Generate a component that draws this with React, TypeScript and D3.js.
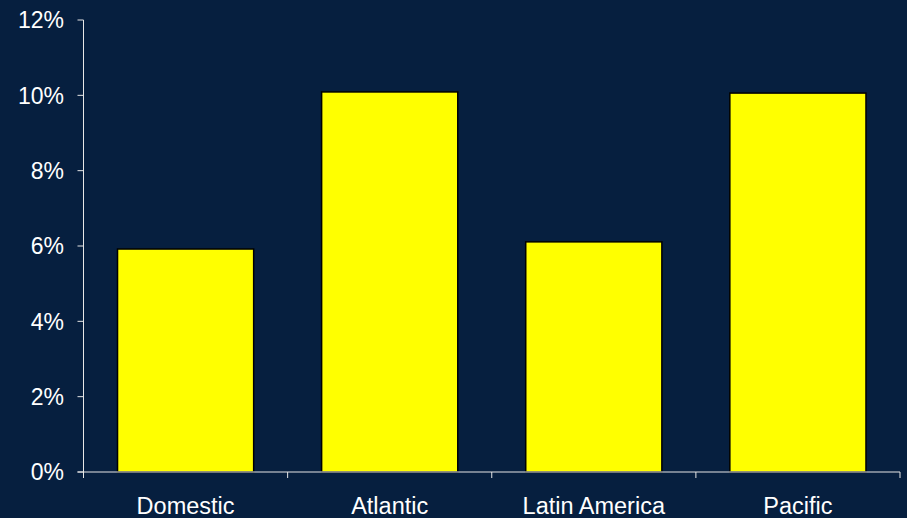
import React from "react";
import * as d3 from "d3";

const categories = ["Domestic", "Atlantic", "Latin America", "Pacific"];
const values = [0.0592, 0.1009, 0.0611, 0.1006];
const yTicks = [0, 0.02, 0.04, 0.06, 0.08, 0.1, 0.12];

const W = 907;
const H = 518;
const margin = { left: 83.5, right: 7, top: 20, bottom: 46 };

export default function App() {
  const x = d3
    .scaleBand<string>()
    .domain(categories)
    .range([margin.left, W - margin.right])
    .paddingInner(0.333)
    .paddingOuter(0.1667);
  const xb = d3
    .scaleBand<string>()
    .domain(categories)
    .range([margin.left, W - margin.right]);
  const y = d3.scaleLinear().domain([0, 0.12]).range([H - margin.bottom, margin.top]);
  const fmt = d3.format(".0%");
  const y0 = y(0);
  const font = "'Liberation Sans', Arial, sans-serif";
  const axisColor = "#e6e6e6";
  const boundaries = [...categories.map((c) => xb(c)!), W - margin.right];

  return (
    <svg
      width={W}
      height={H}
      style={{ position: "fixed", left: 0, top: 0, display: "block" }}
    >
      <rect x={0} y={0} width={W} height={H} fill="#061f3f" />
      {categories.map((c, i) => (
        <rect
          key={c}
          x={x(c)!}
          y={y(values[i])}
          width={x.bandwidth()}
          height={y0 - y(values[i])}
          fill="#ffff00"
          stroke="#000"
          strokeWidth={1.5}
        />
      ))}
      {/* y axis */}
      <line x1={margin.left} x2={margin.left} y1={margin.top} y2={y0} stroke={axisColor} strokeWidth={1} />
      {yTicks.map((t) => (
        <g key={t}>
          <line x1={margin.left - 6} x2={margin.left} y1={y(t)} y2={y(t)} stroke={axisColor} strokeWidth={1} />
          <text
            x={64}
            y={y(t)}
            dy="0.36em"
            textAnchor="end"
            fill="#ffffff"
            fontFamily={font}
            fontSize={23}
          >
            {fmt(t)}
          </text>
        </g>
      ))}
      {/* x axis */}
      <line x1={margin.left - 6} x2={W - margin.right} y1={y0} y2={y0} stroke={axisColor} strokeWidth={1} />
      {boundaries.map((b, i) => (
        <line key={i} x1={b} x2={b} y1={y0} y2={y0 + 6} stroke={axisColor} strokeWidth={1} />
      ))}
      {categories.map((c) => (
        <text
          key={c}
          x={xb(c)! + xb.bandwidth() / 2}
          y={514}
          textAnchor="middle"
          fill="#ffffff"
          fontFamily={font}
          fontSize={23.5}
        >
          {c}
        </text>
      ))}
    </svg>
  );
}
